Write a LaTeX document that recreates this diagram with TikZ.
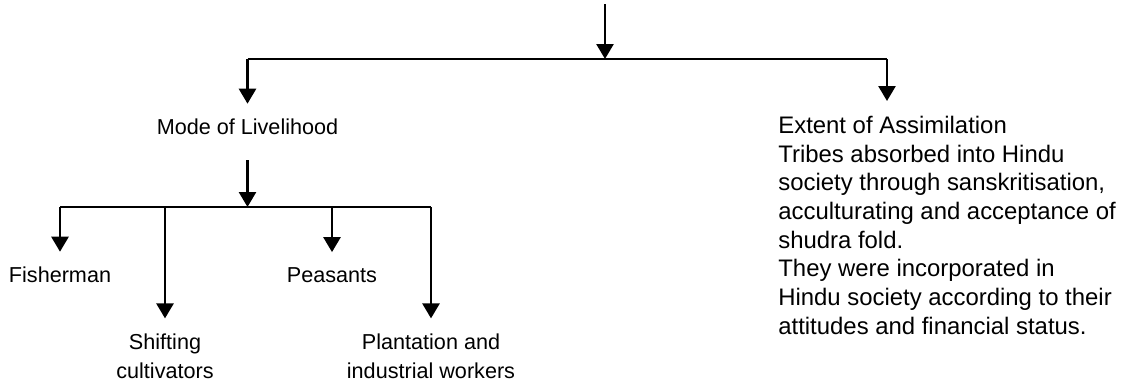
\documentclass[tikz,border=0pt]{standalone}
\usepackage{fontspec}
\setmainfont{Liberation Sans}
\usetikzlibrary{arrows.meta}
\begin{document}
\begin{tikzpicture}[lbl/.style={inner xsep=0pt, inner ysep=0.3cm, font=\fontsize{12.3}{16.3}\selectfont},
  arr/.style={line width=1.5pt, -{Triangle[width=0.34cm,length=0.3cm]}},
  bar/.style={line width=1.5pt}]
  \useasboundingbox (0,0) rectangle (22.86,-7.62);
  \coordinate (top) at (12.1,-0.08);
  \coordinate (split) at (12.1,-1.18);
  \coordinate (rdrop) at (17.74,-1.18);
  \coordinate (hub) at (5.0,-4.14);
  \draw node[lbl] (mode) at (4.95,-2.54) {Mode of Livelihood};
  \draw node[lbl, anchor=north west, align=left, font=\fontsize{13.6}{16.3}\selectfont] (ext) at (15.56,-2.02) {Extent of Assimilation\\
  Tribes absorbed into Hindu\\society through sanskritisation,\\acculturating and acceptance of\\
  shudra fold.\\They were incorporated in\\Hindu society according to their\\attitudes and financial status.};
  \draw node[lbl] (fish) at (1.2,-5.5) {Fisherman};
  \draw node[lbl, align=center] (shift) at (3.3,-7.12) {Shifting\\cultivators};
  \draw node[lbl] (peas) at (6.64,-5.5) {Peasants};
  \draw node[lbl, align=center] (plant) at (8.62,-7.12) {Plantation and\\industrial workers};
  \draw [arr] (top) -- (split);
  \draw [bar] (mode.north |- split) -- (rdrop);
  \draw [arr] (mode.north |- split) -- (mode.north);
  \draw [arr] (rdrop) -- (rdrop |- ext.north);
  \draw [arr, shorten <=0.2cm] (mode.south) -- (mode.south |- hub);
  \draw [bar] (fish.north |- hub) -- (plant.north |- hub);
  \draw [arr] (fish.north |- hub) -- (fish.north);
  \draw [arr] (shift.north |- hub) -- (shift.north);
  \draw [arr] (peas.north |- hub) -- (peas.north);
  \draw [arr] (plant.north |- hub) -- (plant.north);
\end{tikzpicture}
\end{document}
